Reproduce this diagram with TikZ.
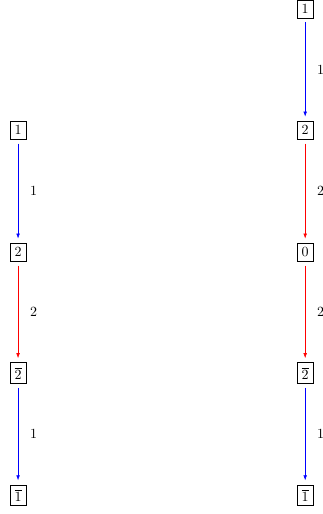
\documentclass[tikz,border=0pt]{standalone}
\usetikzlibrary{arrows.meta}
\begin{document}
\begin{tikzpicture}[x=1pt,y=1pt,
  vbox/.style={draw,thin,inner sep=3.2pt},
  edgeb/.style={draw=blue,-{Latex[length=3.6pt,width=2.6pt]},shorten >=3pt,shorten <=3pt},
  edger/.style={draw=red,-{Latex[length=3.6pt,width=2.6pt]},shorten >=3pt,shorten <=3pt},
  elab/.style={right,xshift=5pt}]
\useasboundingbox (0,0) rectangle (230,-367);
% left column
\node[vbox] (l1) at (12.9,-92.9) {$1$};
\node[vbox] (l2) at (12.9,-180) {$2$};
\node[vbox] (l3) at (12.9,-266.4) {$\overline{2}$};
\node[vbox] (l4) at (12.9,-353.6) {$\overline{1}$};
\draw[edgeb] (l1) -- node[elab,text=black] {$1$} (l2);
\draw[edger] (l2) -- node[elab,text=black] {$2$} (l3);
\draw[edgeb] (l3) -- node[elab,text=black] {$1$} (l4);
% right column
\node[vbox] (r0) at (217.9,-6.4) {$1$};
\node[vbox] (r1) at (217.9,-92.9) {$2$};
\node[vbox] (r2) at (217.9,-180) {$0$};
\node[vbox] (r3) at (217.9,-266.4) {$\overline{2}$};
\node[vbox] (r4) at (217.9,-353.6) {$\overline{1}$};
\draw[edgeb] (r0) -- node[elab,text=black] {$1$} (r1);
\draw[edger] (r1) -- node[elab,text=black] {$2$} (r2);
\draw[edger] (r2) -- node[elab,text=black] {$2$} (r3);
\draw[edgeb] (r3) -- node[elab,text=black] {$1$} (r4);
\end{tikzpicture}
\end{document}
